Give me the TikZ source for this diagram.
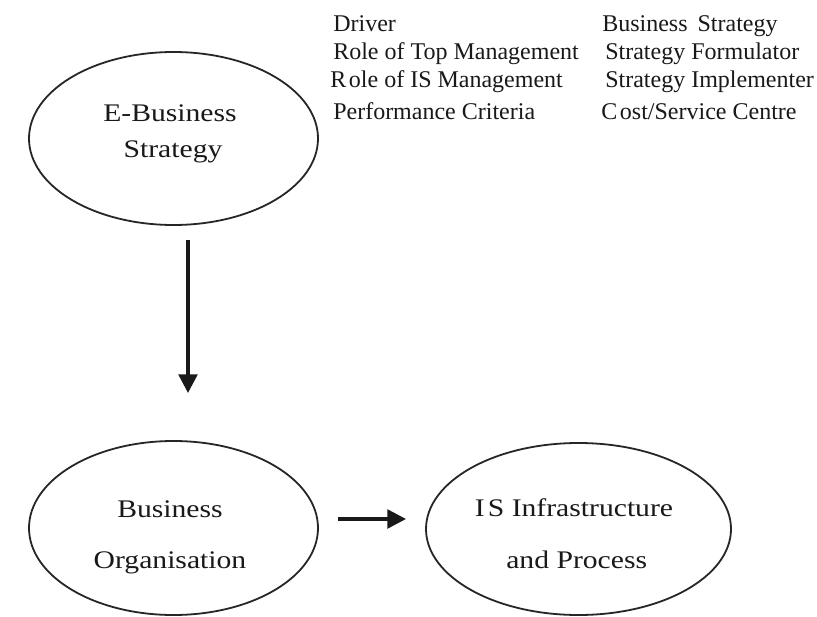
\documentclass[tikz,border=0pt]{standalone}
\usepackage{fontspec}
\setmainfont{Liberation Serif}
\usetikzlibrary{shapes.geometric,arrows.meta}
\begin{document}
\begin{tikzpicture}[x=0.75pt,y=-0.75pt,
  oval/.style={draw=black!85, line width=1.35pt, ellipse, inner sep=0pt},
  lbl/.style={font=\fontsize{19}{19}\selectfont, xscale=1.17, anchor=base, inner sep=0pt, text=black!90},
  item/.style={font=\fontsize{18}{18}\selectfont, anchor=base west, inner sep=0pt, text=black!90},
  arr/.style={line width=2.6pt, black!90, -{Triangle[length=14pt,width=14pt]}}]
\useasboundingbox (0,0) rectangle (817,617);
\fill[white] (0,0) rectangle (817,617);
% ellipses
\node[oval, minimum width=216.75pt, minimum height=129.75pt] (ebs) at (173.5,138.5) {};
\node[oval, minimum width=216.75pt, minimum height=130.5pt] (bo) at (173.5,528) {};
\node[oval, minimum width=228.75pt, minimum height=129pt] (isp) at (578.5,529) {};
% ellipse labels
\node[lbl] (ebs1) at (170,122) {E-Business};
\node[lbl] (ebs2) at (173,157) {Strategy};
\node[lbl] (bo1) at (170,517.7) {Business};
\node[lbl] (bo2) at (170,568) {Organisation};
\node[lbl] (isp1) at (574,516.7) {I\hspace{2pt}S Infrastructure};
\node[lbl] (isp2) at (576.7,568) {and Process};
% list
\node[item] (d1) at (333,31.7) {Driver};
\node[item] (d2) at (333,59.5) {Role of Top Management};
\node[item] (d3) at (330,87.5) {R\hspace{2pt}ole of IS Management};
\node[item] (d4) at (333,119) {Performance Criteria};
\node[item] (v1) at (602,31.7) {Business\hspace{3pt} Strategy};
\node[item] (v2) at (605,60) {Strategy Formulator};
\node[item] (v3) at (605,88) {Strategy Implementer};
\node[item] (v4) at (601,119) {C\hspace{2pt}ost/Service Centre};
% arrows
\coordinate (a1s) at (188,240);
\coordinate (a1e) at (188,393);
\coordinate (a2s) at (338,519);
\coordinate (a2e) at (406,519);
\draw[arr] (a1s) -- (a1e);
\draw[arr] (a2s) -- (a2e);
\end{tikzpicture}
\end{document}
